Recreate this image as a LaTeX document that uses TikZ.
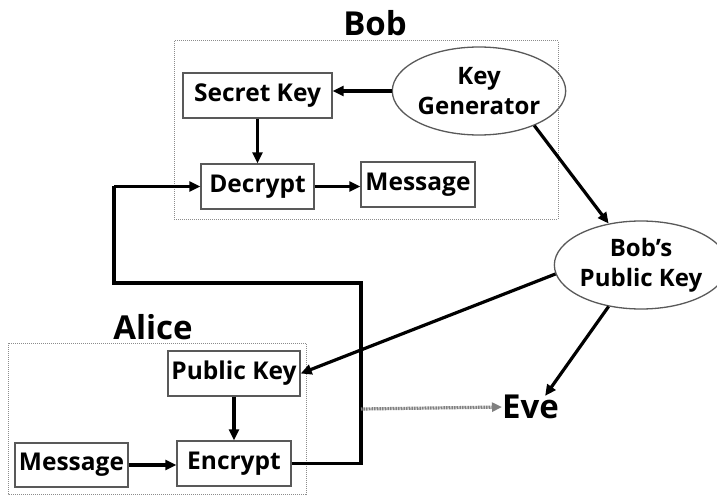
\documentclass[tikz,border=0pt]{standalone}
\usepackage{fontspec}
\setmainfont{Open Sans}[BoldFont={* Bold}]
\usetikzlibrary{arrows.meta,shapes.geometric}
\begin{document}
\begin{tikzpicture}[x=1pt,y=-1pt,
  box/.style={draw=black!65,line width=1.3pt,rectangle,minimum height=45pt,inner sep=0pt,
    font=\fontsize{24.5}{28}\selectfont\bfseries},
  oval/.style={draw=black!65,line width=1.3pt,ellipse,inner sep=0pt,align=center,
    font=\fontsize{24}{30}\selectfont\bfseries},
  group/.style={draw=black!45,line width=1pt,dash pattern=on 1pt off 1pt},
  title/.style={font=\fontsize{33}{36}\selectfont\bfseries,inner sep=0pt},
  arr/.style={line width=3.2pt,-{Triangle[length=11pt,width=10pt]}},
  wire/.style={line width=3.2pt},
  leak/.style={draw=black!50,line width=3.2pt,dash pattern=on 1pt off 0.6pt,
    -{Triangle[length=10pt,width=9pt,fill=black!50]}}]
\useasboundingbox (0,0) rectangle (717,497);
% group frames
\draw[group] (174,41) rectangle (558,219);
\draw[group] (8,343) rectangle (306,494);
\node[title] (bobt) at (375,23) {Bob};
\node[title] (alicet) at (153,327) {Alice};
% Bob
\node[box,minimum width=149pt] (sk) at (257.5,95.5) {Secret Key};
\node[box,minimum width=113pt] (dec) at (257.5,186.5) {Decrypt};
\node[box,minimum width=114pt] (msgb) at (418,184.5) {Message};
\node[oval,minimum width=148pt,minimum height=88pt] (kg) at (479,91) {Key\\Generator};
% public key
\node[oval,minimum width=150pt,minimum height=88pt] (bpk) at (641,265) {Bob’s\\Public Key};
% Alice
\node[box,minimum width=132pt] (pk) at (234,373.5) {Public Key};
\node[box,minimum width=114pt] (enc) at (234,463.5) {Encrypt};
\node[box,minimum width=113pt,minimum height=44pt] (msga) at (71.5,465) {Message};
% Eve
\node[title,anchor=west] (eve) at (502,407) {Eve};
% coordinates of the wire
\coordinate (c1) at (361,283);
\coordinate (c2) at (114,283);
\coordinate (tap) at (361,409);
% connectors
\draw[arr] (kg.west) -- (sk.east |- kg.west);
\draw[arr] (sk.south) -- (dec.north);
\draw[arr] (dec.east) -- (msgb.west |- dec.east);
\draw[arr] (kg.-32) -- (bpk.128);
\draw[arr] (bpk.186) -- (pk.east);
\draw[arr] (bpk.232) -- ([xshift=-14pt,yshift=-1pt]eve.north east);
\draw[arr] (pk.south) -- (enc.north);
\draw[arr] (msga.east) -- (enc.west |- msga.east);
\draw[wire] (enc.east) -| (c1) -- (c2) -- (c2 |- dec.west);
\draw[arr] (c2 |- dec.west) -- (dec.west);
\draw[leak] (tap) -- (eve.west);
\end{tikzpicture}
\end{document}
